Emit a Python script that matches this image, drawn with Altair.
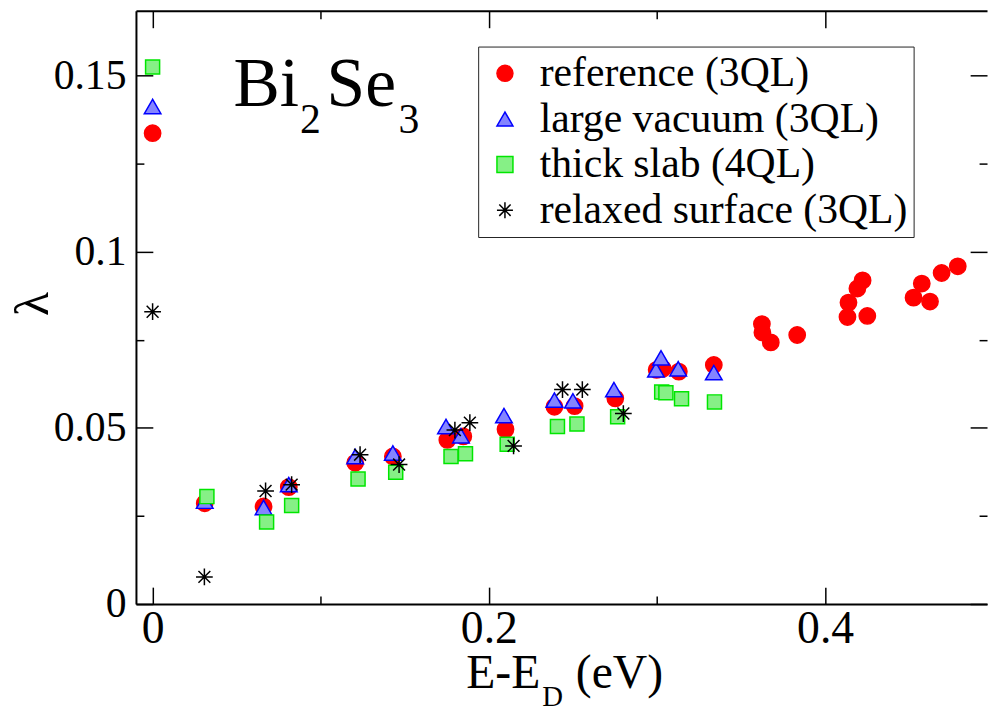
import altair as alt
import pandas as pd

# ---------------- data ----------------
names = ["reference (3QL)", "large vacuum (3QL)", "thick slab (4QL)", "relaxed surface (3QL)"]

ref_x = [0.0, 0.031, 0.066, 0.081, 0.1205, 0.1429, 0.1753, 0.1848, 0.2099, 0.239, 0.251, 0.2752,
         0.2998, 0.3035, 0.313, 0.3338, 0.3624, 0.3627, 0.3677, 0.3834, 0.4133, 0.4139, 0.4192,
         0.4223, 0.4251, 0.4526, 0.4575, 0.4624, 0.4693, 0.4789]
ref_y = [0.1337, 0.0286, 0.0277, 0.0332, 0.0401, 0.0419, 0.0466, 0.0476, 0.0496, 0.056, 0.0562, 0.0584,
         0.0665, 0.0668, 0.066, 0.0679, 0.0795, 0.0771, 0.0743, 0.0764, 0.0815, 0.0856, 0.0896,
         0.0919, 0.0818, 0.087, 0.091, 0.0859, 0.094, 0.0959]

vac_x = [0.0, 0.031, 0.066, 0.081, 0.1205, 0.1429, 0.1745, 0.1834, 0.209, 0.239, 0.25, 0.2744,
         0.2994, 0.3024, 0.3126, 0.3338]
vac_y = [0.1413, 0.0292, 0.0274, 0.0339, 0.0419, 0.0429, 0.0504, 0.0478, 0.0535, 0.0579, 0.0577, 0.0609,
         0.0665, 0.0699, 0.0668, 0.0657]

slab_x = [0.0, 0.0323, 0.0678, 0.0827, 0.1222, 0.1446, 0.1775, 0.1861, 0.2109, 0.2408, 0.2524, 0.2766,
          0.3028, 0.3053, 0.3146, 0.3342]
slab_y = [0.1525, 0.0305, 0.0233, 0.028, 0.0355, 0.0374, 0.0419, 0.0427, 0.0454, 0.0504, 0.0511, 0.0532,
          0.0602, 0.06, 0.0583, 0.0574]

relax_x = [0.0, 0.0308, 0.0672, 0.0827, 0.1234, 0.1466, 0.1798, 0.1887, 0.2147, 0.2438, 0.2556, 0.28]
relax_y = [0.083, 0.0077, 0.0321, 0.0339, 0.0424, 0.0396, 0.0494, 0.0515, 0.0449, 0.0609, 0.0609, 0.0541]

x_major = [0, 0.2, 0.4]
x_minor = [0.1, 0.3]
y_major = [0, 0.05, 0.1, 0.15]
y_minor = [0.025, 0.075, 0.125]

label_main_txt = ["Bi", "Se"]
label_main_x = [0.0481, 0.1035]
label_main_y = [0.14146, 0.14146]
label_sub_txt = ["2", "3"]
label_sub_x = [0.0876, 0.1463]
label_sub_y = [0.13375, 0.1339]

# ---------------- styles ----------------
FONT = "Liberation Serif"
STAR = "M0,-1L0,1M-1,0L1,0M-0.7071,-0.7071L0.7071,0.7071M-0.7071,0.7071L0.7071,-0.7071"
shapes = ["circle", "triangle-up", "square", STAR]
fills = ["#ff0000", "#8484ff", "#86f086", "transparent"]
strokes = ["#ff0000", "#0000ff", "#00e600", "#000000"]
sizes = [270, 280, 200, 285]

W, H = 858, 598

rows = []
for nm, xs, ys in zip(names, [ref_x, vac_x, slab_x, relax_x], [ref_y, vac_y, slab_y, relax_y]):
    for a, b in zip(xs, ys):
        rows.append({"x": a, "y": b, "series": nm})
df = pd.DataFrame(rows)

xscale = alt.Scale(domain=[-0.0099, 0.4963], nice=False, zero=False)
yscale = alt.Scale(domain=[0, 0.16845], nice=False, zero=False)

leg = alt.Legend(title=None)

x_main = alt.Axis(orient="bottom", values=x_major, format="~g", ticks=False, domain=True,
                  domainColor="black", domainWidth=2, labelFont=FONT, labelFontSize=46,
                  labelColor="black", labelPadding=3, grid=False, title=None)
y_main = alt.Axis(orient="left", values=y_major, format="~g", ticks=False, domain=True,
                  domainColor="black", domainWidth=2, labelFont=FONT, labelFontSize=42,
                  labelColor="black", labelPadding=10, grid=False, title="λ",
                  titleFont=FONT, titleFontSize=50, titleFontWeight="normal", titleColor="black",
                  titleX=-104, titleY=295, titleAlign="center", titleBaseline="middle", titleAngle=270)


def tick_axis(orient, offset, values, size, domain=False):
    return alt.Axis(orient=orient, offset=offset, values=values, labels=False, domain=domain,
                    domainColor="black", domainWidth=2, ticks=True, tickSize=size,
                    tickWidth=1.5, tickColor="black", grid=False, title=None)


def tick_layer(xa, ya):
    return alt.Chart(df).mark_point(opacity=0).encode(
        x=alt.X("x:Q", scale=xscale, axis=xa),
        y=alt.Y("y:Q", scale=yscale, axis=ya),
    )


t0 = tick_layer(x_main, y_main)
t1 = tick_layer(tick_axis("top", -H, x_major, 17), tick_axis("right", -W, y_major, 17))
t2 = tick_layer(tick_axis("top", -H, x_minor, 8), tick_axis("right", -W, y_minor, 8))
t3 = tick_layer(tick_axis("bottom", -H, x_major, 17, domain=True), tick_axis("left", -W, y_major, 17))
t4 = tick_layer(tick_axis("bottom", -H, x_minor, 8), tick_axis("left", -W, y_minor, 8))


def series_layer(nm, sz):
    return alt.Chart(df).transform_filter(alt.datum.series == nm).mark_point(
        opacity=1, strokeWidth=1.5, size=sz
    ).encode(
        x=alt.X("x:Q", scale=xscale, axis=None),
        y=alt.Y("y:Q", scale=yscale, axis=None),
        shape=alt.Shape("series:N", scale=alt.Scale(domain=names, range=shapes), legend=leg),
        fill=alt.Fill("series:N", scale=alt.Scale(domain=names, range=fills), legend=leg),
        stroke=alt.Stroke("series:N", scale=alt.Scale(domain=names, range=strokes), legend=leg),
    )


series_layers = [series_layer(nm, sz) for nm, sz in zip(names, sizes)]

lab_main = alt.Chart(pd.DataFrame({"t": label_main_txt, "x": label_main_x, "y": label_main_y})).mark_text(
    font=FONT, fontSize=70, align="left", baseline="alphabetic", color="black"
).encode(x=alt.X("x:Q", scale=xscale, axis=None), y=alt.Y("y:Q", scale=yscale, axis=None), text="t:N")

lab_sub = alt.Chart(pd.DataFrame({"t": label_sub_txt, "x": label_sub_x, "y": label_sub_y})).mark_text(
    font=FONT, fontSize=42, align="left", baseline="alphabetic", color="black"
).encode(x=alt.X("x:Q", scale=xscale, axis=None), y=alt.Y("y:Q", scale=yscale, axis=None), text="t:N")


def title_piece(txt, px, py, fs):
    return alt.Chart(pd.DataFrame({"t": [txt]})).mark_text(
        font=FONT, fontSize=fs, align="left", baseline="alphabetic", color="black"
    ).encode(x=alt.value(px), y=alt.value(py), text="t:N")


xt1 = title_piece("E-E", 333, 683, 48)
xt2 = title_piece("D", 409.5, 701, 29)
xt3 = title_piece("(eV)", 443.5, 683, 48)

chart = alt.layer(
    t0, t1, t2, t3, t4, *series_layers, lab_main, lab_sub, xt1, xt2, xt3
).resolve_axis(
    x="independent", y="independent"
).properties(
    width=W, height=H,
    autosize=alt.AutoSizeParams(type="none"),
    padding={"left": 129, "top": 0, "right": 2, "bottom": 107},
    background="white",
).configure_view(
    stroke="transparent"
).configure_legend(
    orient="none", legendX=345, legendY=36,
    labelFont=FONT, labelFontSize=42, labelColor="black", labelLimit=1000,
    symbolSize=260, symbolStrokeWidth=1.5, padding=6, rowPadding=4,
    labelOffset=14, symbolOffset=0, strokeColor="#222222", fillColor="white",
)

chart.save("out.html", embed_options={"renderer": "svg", "actions": False})
